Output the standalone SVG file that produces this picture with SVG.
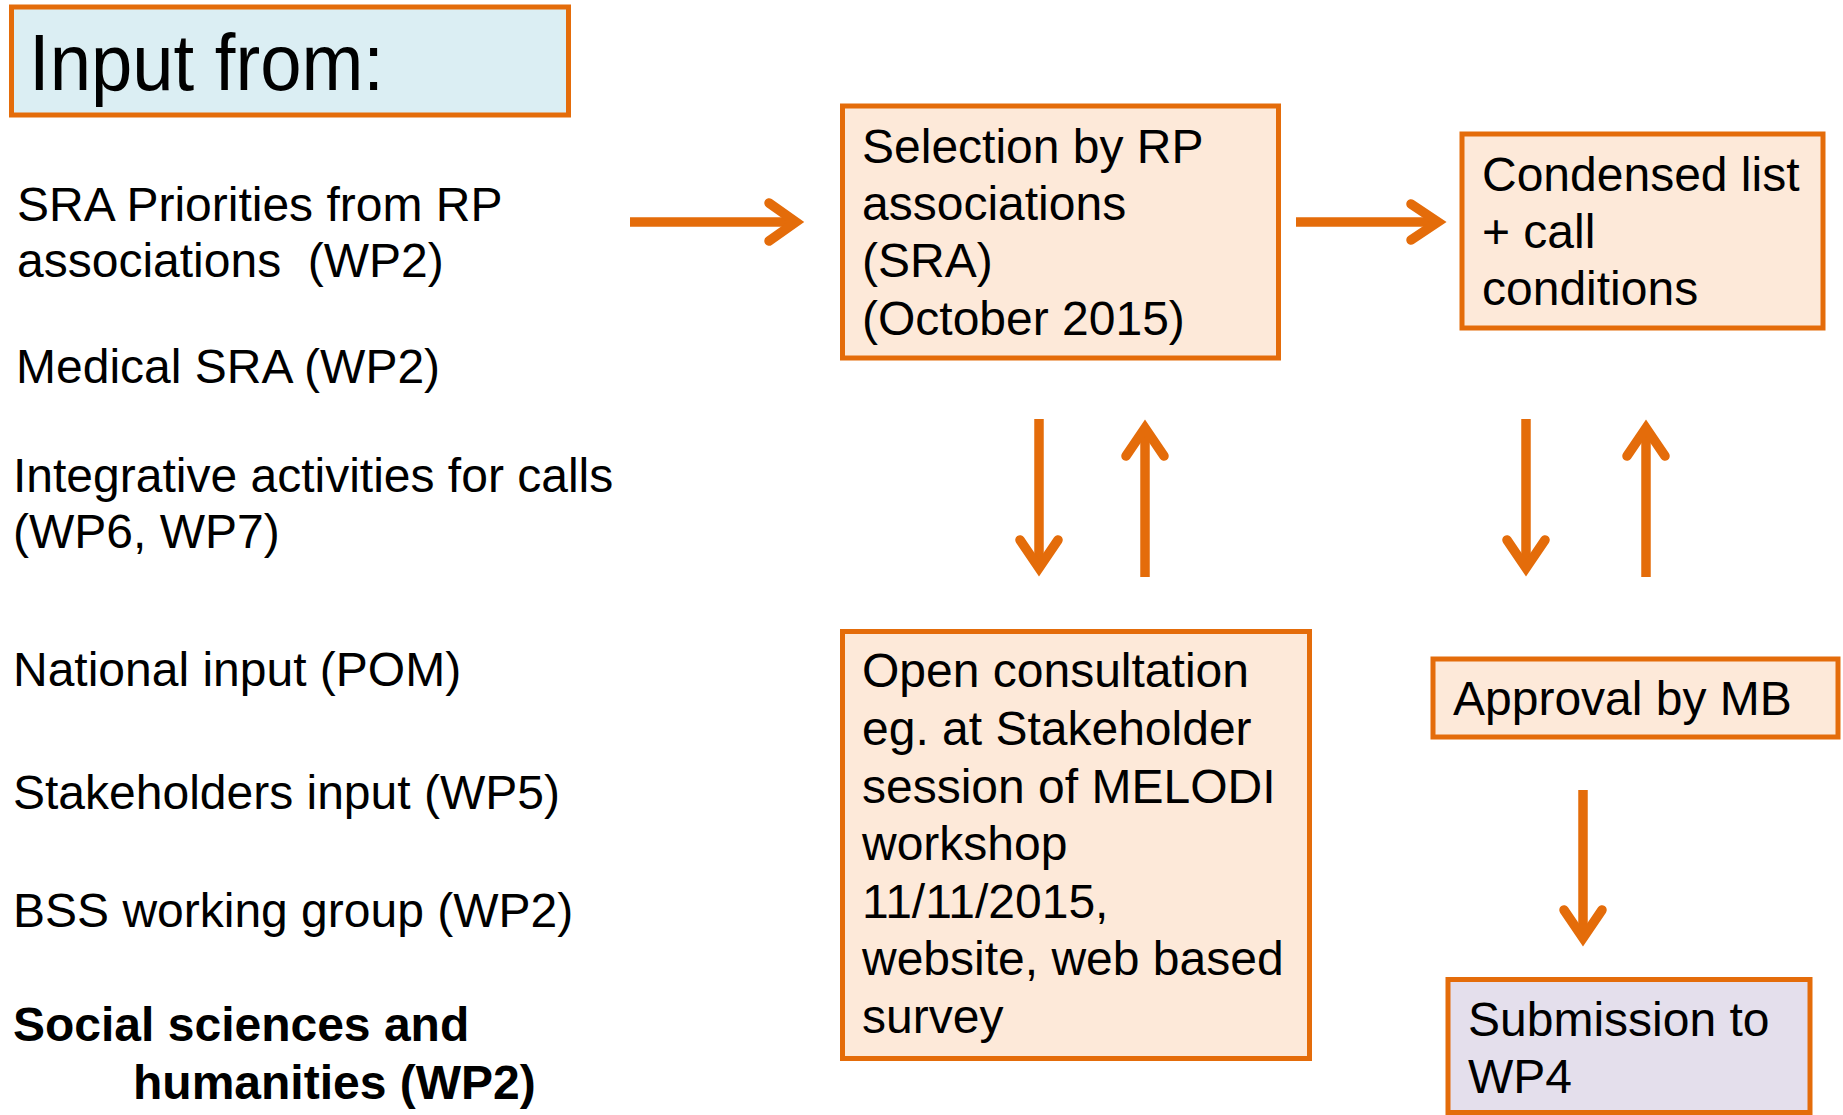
<svg xmlns="http://www.w3.org/2000/svg" width="1843" height="1115" viewBox="0 0 1843 1115">
<style>
  text { font-family: "Liberation Sans", Arial, sans-serif; font-size: 48px; fill: #000; }
  .box { stroke: #E46C0A; stroke-width: 5; }
  .peach { fill: #FDE9D9; }
  .conn { stroke: #E46C0A; stroke-width: 9.5; fill: none; stroke-linecap: round; stroke-linejoin: miter; }
  .shaft { stroke: #E46C0A; stroke-width: 9.5; fill: none; stroke-linecap: butt; }
</style>
<rect width="1843" height="1115" fill="#FFFFFF"/>

<g id="input-from">
  <rect class="box" x="11.5" y="7" width="557" height="108" fill="#DBEEF3"/>
  <text x="29" y="90" style="font-size:79px" textLength="355" lengthAdjust="spacingAndGlyphs">Input from:</text>
</g>

<g id="input-list">
  <text x="17" y="221">SRA Priorities from RP</text>
  <text x="17" y="277" xml:space="preserve">associations  (WP2)</text>
  <text x="16" y="383">Medical SRA (WP2)</text>
  <text x="13" y="492">Integrative activities for calls</text>
  <text x="13" y="548">(WP6, WP7)</text>
  <text x="13" y="686">National input (POM)</text>
  <text x="13" y="809">Stakeholders input (WP5)</text>
  <text x="13" y="927">BSS working group (WP2)</text>
  <text x="13" y="1041" font-weight="bold">Social sciences and</text>
  <text x="133" y="1099" font-weight="bold">humanities (WP2)</text>
</g>

<g id="selection">
  <rect class="box peach" x="842.5" y="106" width="436" height="252"/>
  <text x="862" y="163">Selection by RP</text>
  <text x="862" y="220">associations</text>
  <text x="862" y="277">(SRA)</text>
  <text x="862" y="335">(October 2015)</text>
</g>

<g id="condensed">
  <rect class="box peach" x="1462" y="134" width="361" height="194"/>
  <text x="1482" y="191">Condensed list</text>
  <text x="1482" y="248">+ call</text>
  <text x="1482" y="305">conditions</text>
</g>

<g id="consultation">
  <rect class="box peach" x="842.5" y="631.5" width="467" height="427"/>
  <text x="862" y="687">Open consultation</text>
  <text x="862" y="745">eg. at Stakeholder</text>
  <text x="862" y="803">session of MELODI</text>
  <text x="862" y="860">workshop</text>
  <text x="862" y="918">11/11/2015,</text>
  <text x="862" y="975">website, web based</text>
  <text x="862" y="1033">survey</text>
</g>

<g id="approval">
  <rect class="box peach" x="1433" y="659" width="405" height="78"/>
  <text x="1453" y="715">Approval by MB</text>
</g>

<g id="submission">
  <rect class="box" x="1448" y="979.5" width="362" height="133" fill="#E4DFEC"/>
  <text x="1468" y="1036">Submission to</text>
  <text x="1468" y="1093">WP4</text>
</g>

<g id="connectors">
  <!-- inputs -> selection -->
  <line class="shaft" x1="630" y1="222" x2="792" y2="222"/>
  <polyline class="conn" points="769,203 796,222 769,241"/>
  <!-- selection -> condensed -->
  <line class="shaft" x1="1296" y1="222" x2="1434" y2="222"/>
  <polyline class="conn" points="1411,204 1438,222 1411,240"/>
  <!-- selection -> consultation (down) -->
  <line class="shaft" x1="1039" y1="419" x2="1039" y2="564"/>
  <polyline class="conn" points="1020,540 1039,568 1058,540"/>
  <!-- consultation -> selection (up) -->
  <line class="shaft" x1="1145" y1="577" x2="1145" y2="432"/>
  <polyline class="conn" points="1126,456 1145,428 1164,456"/>
  <!-- condensed -> approval (down) -->
  <line class="shaft" x1="1526" y1="419" x2="1526" y2="564"/>
  <polyline class="conn" points="1507,540 1526,568 1545,540"/>
  <!-- approval -> condensed (up) -->
  <line class="shaft" x1="1646" y1="577" x2="1646" y2="432"/>
  <polyline class="conn" points="1627,456 1646,428 1665,456"/>
  <!-- approval -> submission -->
  <line class="shaft" x1="1583" y1="790" x2="1583" y2="934"/>
  <polyline class="conn" points="1564,910 1583,938 1602,910"/>
</g>
</svg>
